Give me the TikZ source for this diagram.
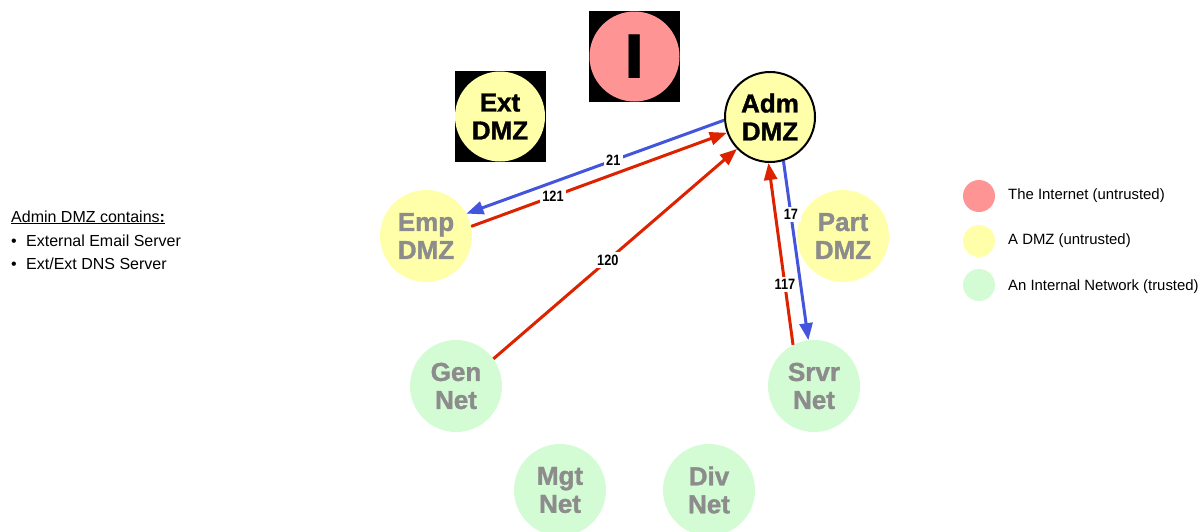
\documentclass[tikz,border=0pt]{standalone}
\usepackage{fontspec}
\setmainfont{Liberation Sans}
\newfontfamily\narrowsans[FakeStretch=0.85]{Liberation Sans}
\newfontfamily\zonefont[FakeBold=1.3]{Liberation Sans Bold}
\newfontfamily\heavysans{DejaVu Sans}
\usetikzlibrary{arrows.meta}

\definecolor{netpink}{RGB}{255,148,148}
\definecolor{dmzyellow}{RGB}{255,255,170}
\definecolor{intgreen}{RGB}{212,252,212}
\definecolor{dimtext}{RGB}{140,140,140}
\definecolor{flowred}{RGB}{221,34,0}
\definecolor{flowblue}{RGB}{68,85,221}

\tikzset{
  zone/.style={circle, minimum size=92pt, inner sep=0pt, align=center,
    font=\zonefont\fontsize{26}{28}\selectfont},
  dmz/.style={zone, fill=dmzyellow},
  intnet/.style={zone, fill=intgreen},
  faded/.style={text=dimtext},
  backsq/.style={fill=black, minimum size=91pt, inner sep=0pt},
  flow/.style={line width=3pt, -{Triangle[length=17pt,width=13pt]}},
  redflow/.style={flow, draw=flowred},
  blueflow/.style={flow, draw=flowblue},
  portlbl/.style={fill=white, inner sep=2.5pt, text=black,
    font=\narrowsans\bfseries\fontsize{15}{15}\selectfont},
  keydot/.style={circle, minimum size=32pt, inner sep=0pt},
  keytext/.style={anchor=west, inner sep=0pt, font=\fontsize{14.9}{16}\selectfont},
  notetext/.style={anchor=base west, inner sep=0pt, font=\fontsize{16}{18}\selectfont}
}

\begin{document}
\begin{tikzpicture}[x=1pt,y=-1pt]
\useasboundingbox (0,0) rectangle (1201,531);

% the Internet
\node[backsq] (inetbg) at (634.5,56.5) {};
\node[zone, fill=netpink, minimum size=90pt] (inet) at (634.5,56.5)
  {\heavysans\bfseries\fontsize{60}{60}\selectfont I};

% DMZ zones
\node[backsq] (extbg) at (500,116.5) {};
\node[dmz, minimum size=90pt] (ext) at (500,116.5) {Ext\\DMZ};
\node[dmz, draw=black, line width=2pt, minimum size=90pt] (adm) at (770,117) {Adm\\DMZ};
\node[dmz, faded] (emp) at (426,236) {Emp\\DMZ};
\node[dmz, faded] (part) at (843,236) {Part\\DMZ};

% internal networks
\node[intnet, faded] (gen) at (456,386) {Gen\\Net};
\node[intnet, faded] (srvr) at (814,386) {Srvr\\Net};
\node[intnet, faded] (mgt) at (560,490) {Mgt\\Net};
\node[intnet, faded] (div) at (709,490) {Div\\Net};

% permitted flows
\draw[blueflow] (adm.184) -- node[portlbl, pos=0.43] (l21) {21} (emp.29);
\draw[redflow] (emp.12) -- node[portlbl, pos=0.32] (l121) {121} (adm.200);
\draw[redflow] (gen.36) -- node[portlbl, pos=0.47] (l120) {120} (adm.224);
\draw[redflow] (srvr.117) -- node[portlbl, pos=0.33] (l117) {117} (adm.268);
\draw[blueflow] (adm.287) -- node[portlbl, pos=0.30] (l17) {17} (srvr.97);

% note on the left
\node[notetext] (note) at (11,222) {\underline{Admin DMZ contains\textbf{:}}};
\node[notetext] (b1) at (11,246) {\textbullet};
\node[notetext] (i1) at (26,246) {External Email Server};
\node[notetext] (b2) at (11,269) {\textbullet};
\node[notetext] (i2) at (26,269) {Ext/Ext DNS Server};

% key
\node[keydot, fill=netpink] (k1) at (979,196) {};
\node[keytext] (t1) at (1008,196) {The Internet (untrusted)};
\node[keydot, fill=dmzyellow] (k2) at (979,241) {};
\node[keytext] (t2) at (1008,241) {A DMZ (untrusted)};
\node[keydot, fill=intgreen] (k3) at (979,285) {};
\node[keytext] (t3) at (1008,287) {An Internal Network (trusted)};
\end{tikzpicture}
\end{document}
